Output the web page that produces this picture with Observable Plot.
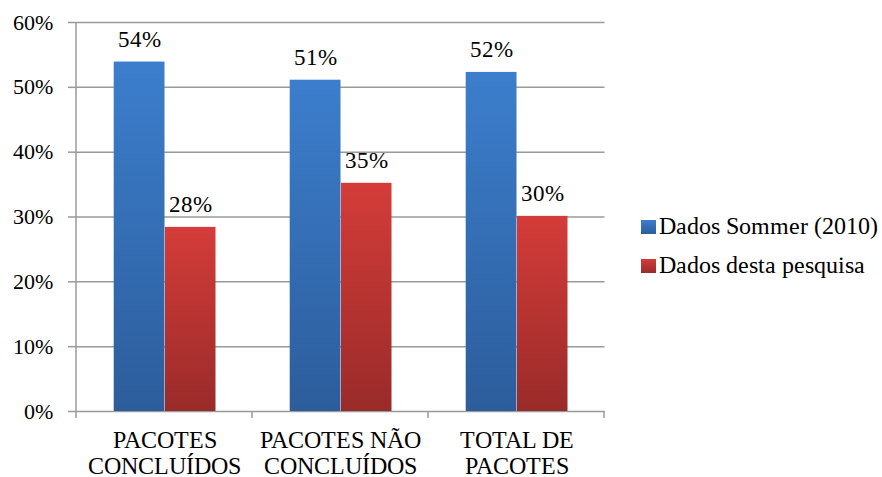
<!DOCTYPE html>
<html><head><meta charset="utf-8">
<script src="https://cdn.jsdelivr.net/npm/d3@7"></script>
<script src="https://cdn.jsdelivr.net/npm/@observablehq/plot@0.6"></script>
<style>
@font-face{font-family:'ChartSerif';src:local('Liberation Serif'),local('LiberationSerif'),local('Times New Roman');}
body{margin:0;}
</style></head><body>
<div id="wrap" style="position:relative;width:882px;height:477px;font-family:'ChartSerif','Liberation Serif',serif"><div id="chart"></div><div id="legend" style="position:absolute;left:641px;top:207px;font-size:23.5px;line-height:39px;font-family:'ChartSerif','Liberation Serif',serif"></div></div>
<script>
const categories = ["PACOTES CONCLUÍDOS", "PACOTES NÃO CONCLUÍDOS", "TOTAL DE PACOTES"];
const categoryLabels = ["PACOTES\nCONCLUÍDOS", "PACOTES NÃO\nCONCLUÍDOS", "TOTAL DE\nPACOTES"];
const seriesNames = ["Dados Sommer (2010)", "Dados desta pesquisa"];
const sommerValues = [0.539, 0.511, 0.523];
const pesquisaValues = [0.284, 0.352, 0.301];
const sommerLabels = ["54%", "51%", "52%"];
const pesquisaLabels = ["28%", "35%", "30%"];
const yTicks = [0, 0.1, 0.2, 0.3, 0.4, 0.5, 0.6];

const sommer = categories.map((c, i) => ({category: c, value: sommerValues[i], label: sommerLabels[i]}));
const pesquisa = categories.map((c, i) => ({category: c, value: pesquisaValues[i], label: pesquisaLabels[i]}));

const blueTop = "#3c7ecd", blueBot = "#2c5d9b";
const redTop = "#d43c39", redBot = "#992b29";
const grid = "#9a9a9a";
const serif = "ChartSerif, Liberation Serif, serif";

const defs = () => {
  const d = d3.create("svg:defs");
  [["gBlue", blueTop, blueBot], ["gRed", redTop, redBot]].forEach(([id, a, b]) => {
    const lg = d.append("linearGradient").attr("id", id).attr("x1", 0).attr("y1", 0).attr("x2", 0).attr("y2", 1);
    lg.append("stop").attr("offset", "0%").attr("stop-color", a);
    lg.append("stop").attr("offset", "100%").attr("stop-color", b);
  });
  const f = d.append("filter").attr("id", "shadow").attr("x", "-10%").attr("y", "-10%").attr("width", "130%").attr("height", "130%");
  f.append("feDropShadow").attr("dx", 1.5).attr("dy", 1.5).attr("stdDeviation", 1.2).attr("flood-color", "#000").attr("flood-opacity", 0.28);
  return d.node();
};

const edgeTicks = (index, {x, y}) => {
  const bw = typeof x.bandwidth === "function" ? x.bandwidth() : x.bandwidth;
  const edges = categories.map(c => x(c)).concat([x(categories[categories.length - 1]) + bw]);
  const g = d3.create("svg:g").attr("stroke", grid).attr("stroke-width", 1.5);
  const y0 = y(0);
  edges.forEach(e => g.append("line").attr("x1", e).attr("x2", e).attr("y1", y0).attr("y2", y0 + 7));
  g.append("line").attr("x1", edges[0]).attr("x2", edges[0]).attr("y1", y(0.6)).attr("y2", y0);
  return g.node();
};

const plot = Plot.plot({
  width: 882,
  height: 477,
  marginLeft: 75,
  marginRight: 277.5,
  marginTop: 22,
  marginBottom: 66,
  x: {domain: categories, padding: 0, axis: null},
  y: {domain: [0, 0.6], axis: null},
  marks: [
    defs,
    Plot.gridY(yTicks, {stroke: grid, strokeOpacity: 1, strokeWidth: 1.5}),
    Plot.axisY(yTicks, {tickFormat: d3.format(".0%"), tickSize: 7, tickPadding: 16, fontSize: 22, fontFamily: serif, fill: "#000", stroke: grid, strokeWidth: 1.5, label: null}),
    Plot.axisX({tickSize: 0, tickPadding: 18, fontSize: 23.5, fontFamily: serif, fill: "#000", lineHeight: 1.1, tickFormat: (d) => categoryLabels[categories.indexOf(d)], label: null}),
    Plot.barY(sommer, {x: "category", y: "value", insetLeft: 37.7, insetRight: 87.5, fill: "url(#gBlue)"}),
    Plot.barY(pesquisa, {x: "category", y: "value", insetLeft: 89, insetRight: 36.5, fill: "url(#gRed)"}),
    edgeTicks,
    Plot.text(sommer, {x: "category", y: "value", text: "label", dx: -24.9, dy: -15, lineAnchor: "bottom", fontSize: 22.5, fontFamily: serif, fill: "#000"}),
    Plot.text(pesquisa, {x: "category", y: "value", text: "label", dx: 26.2, dy: -15, lineAnchor: "bottom", fontSize: 22.5, fontFamily: serif, fill: "#000"})
  ]
});
plot.querySelectorAll("rect[fill^='url']").forEach(r => r.setAttribute("filter", "url(#shadow)"));
document.getElementById("chart").appendChild(plot);

const legend = d3.select("#legend");
[[blueTop, blueBot], [redTop, redBot]].forEach(([a, b], i) => {
  const it = legend.append("div").style("display", "flex").style("align-items", "center").style("white-space", "nowrap");
  it.append("span").style("width", "15px").style("height", "14px").style("margin-right", "3px").style("display", "inline-block").style("background", `linear-gradient(${a}, ${b})`);
  it.append("span").text(seriesNames[i]);
});
</script></body></html>
